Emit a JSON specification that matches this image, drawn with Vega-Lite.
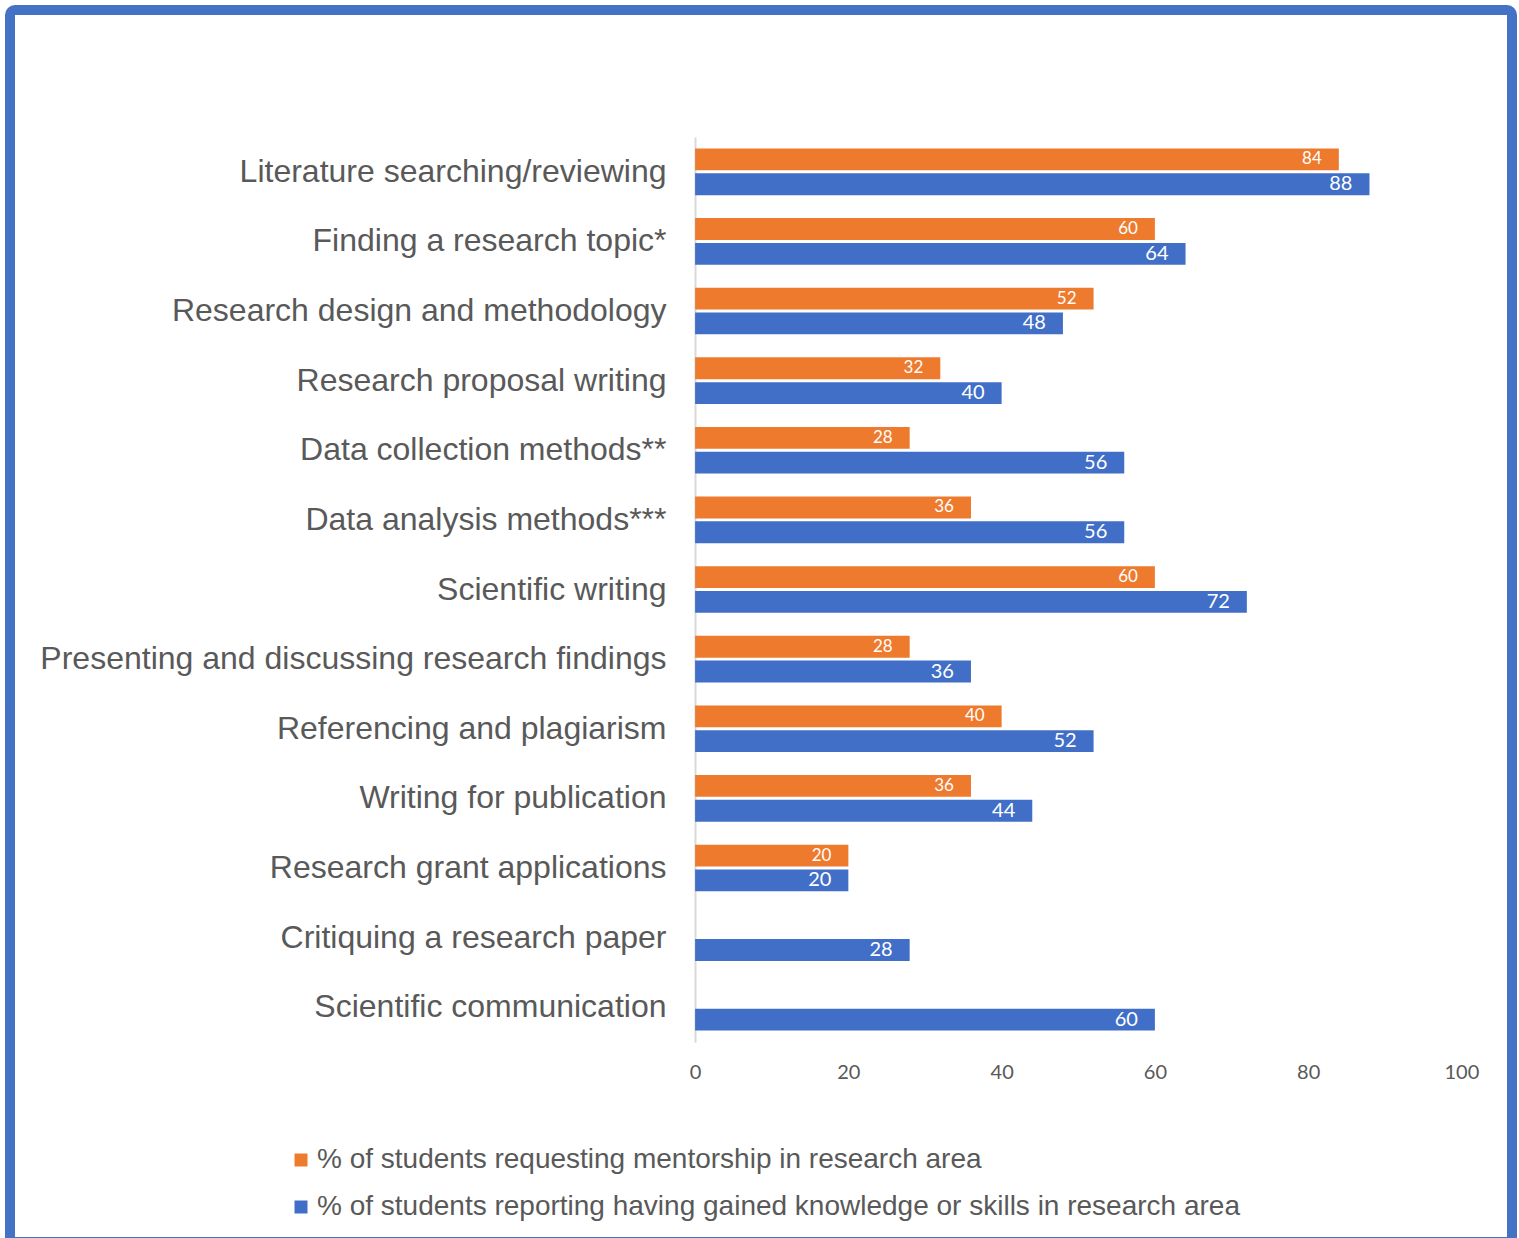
{
  "$schema": "https://vega.github.io/schema/vega-lite/v6.json",
  "width": 1502,
  "height": 1232,
  "autosize": {"type": "none"},
  "padding": {"left": 10, "top": 10, "right": 7, "bottom": 0},
  "background": "white",
  "config": {
    "view": {"stroke": "#4472C4", "strokeWidth": 10, "cornerRadius": 5},
    "font": "Liberation Sans"
  },
  "data": {
    "values": [
      {"area": "Literature searching/reviewing", "series": "% of students requesting mentorship in research area", "value": 84},
      {"area": "Literature searching/reviewing", "series": "% of students reporting having gained knowledge or skills in research area", "value": 88},
      {"area": "Finding a research topic*", "series": "% of students requesting mentorship in research area", "value": 60},
      {"area": "Finding a research topic*", "series": "% of students reporting having gained knowledge or skills in research area", "value": 64},
      {"area": "Research design and methodology", "series": "% of students requesting mentorship in research area", "value": 52},
      {"area": "Research design and methodology", "series": "% of students reporting having gained knowledge or skills in research area", "value": 48},
      {"area": "Research proposal writing", "series": "% of students requesting mentorship in research area", "value": 32},
      {"area": "Research proposal writing", "series": "% of students reporting having gained knowledge or skills in research area", "value": 40},
      {"area": "Data collection methods**", "series": "% of students requesting mentorship in research area", "value": 28},
      {"area": "Data collection methods**", "series": "% of students reporting having gained knowledge or skills in research area", "value": 56},
      {"area": "Data analysis methods***", "series": "% of students requesting mentorship in research area", "value": 36},
      {"area": "Data analysis methods***", "series": "% of students reporting having gained knowledge or skills in research area", "value": 56},
      {"area": "Scientific writing", "series": "% of students requesting mentorship in research area", "value": 60},
      {"area": "Scientific writing", "series": "% of students reporting having gained knowledge or skills in research area", "value": 72},
      {"area": "Presenting and discussing research findings", "series": "% of students requesting mentorship in research area", "value": 28},
      {"area": "Presenting and discussing research findings", "series": "% of students reporting having gained knowledge or skills in research area", "value": 36},
      {"area": "Referencing and plagiarism", "series": "% of students requesting mentorship in research area", "value": 40},
      {"area": "Referencing and plagiarism", "series": "% of students reporting having gained knowledge or skills in research area", "value": 52},
      {"area": "Writing for publication", "series": "% of students requesting mentorship in research area", "value": 36},
      {"area": "Writing for publication", "series": "% of students reporting having gained knowledge or skills in research area", "value": 44},
      {"area": "Research grant applications", "series": "% of students requesting mentorship in research area", "value": 20},
      {"area": "Research grant applications", "series": "% of students reporting having gained knowledge or skills in research area", "value": 20},
      {"area": "Critiquing a research paper", "series": "% of students reporting having gained knowledge or skills in research area", "value": 28},
      {"area": "Scientific communication", "series": "% of students reporting having gained knowledge or skills in research area", "value": 60}
    ]
  },
  "encoding": {
    "y": {
      "field": "area",
      "type": "nominal",
      "sort": null,
      "scale": {"range": [127, 1032], "paddingInner": 0.33, "paddingOuter": 0.165},
      "axis": {
        "title": null,
        "orient": "left",
        "offset": -685,
        "ticks": false,
        "tickSize": 0,
        "labelPadding": 29,
        "labelFontSize": 32,
        "labelColor": "#595959",
        "labelFont": "Liberation Sans",
        "labelLimit": 700,
        "domainColor": "#D9D9D9",
        "domainWidth": 2
      }
    },
    "yOffset": {
      "field": "series",
      "type": "nominal",
      "scale": {
        "domain": ["% of students requesting mentorship in research area", "% of students reporting having gained knowledge or skills in research area"],
        "paddingInner": 0.12
      }
    },
    "x": {
      "field": "value",
      "type": "quantitative",
      "scale": {"domain": [-89.4, 106.6], "nice": false, "zero": false},
      "axis": {
        "title": null,
        "orient": "bottom",
        "values": [0, 20, 40, 60, 80, 100],
        "offset": -170,
        "ticks": false,
        "tickSize": 0,
        "labelPadding": 0,
        "labelBaseline": "middle",
        "domain": false,
        "grid": false,
        "labelFontSize": 20,
        "labelColor": "#595959",
        "labelFont": "Lato"
      }
    }
  },
  "layer": [
    {
      "mark": {"type": "bar"},
      "encoding": {
        "color": {
          "field": "series",
          "type": "nominal",
          "scale": {
            "domain": ["% of students requesting mentorship in research area", "% of students reporting having gained knowledge or skills in research area"],
            "range": ["#EE7A2E", "#416FC8"]
          },
          "legend": {
            "title": null,
            "orient": "none",
            "legendX": 277,
            "legendY": 1136,
            "symbolType": "square",
            "symbolSize": 169,
            "symbolStrokeWidth": 0,
            "labelFontSize": 28,
            "labelColor": "#595959",
            "labelFont": "Liberation Sans",
            "labelOffset": 2,
            "labelLimit": 1200,
            "rowPadding": 19
          }
        }
      }
    },
    {
      "transform": [{"filter": "datum.series === '% of students requesting mentorship in research area'"}],
      "mark": {"type": "text", "align": "right", "baseline": "middle", "dx": -17, "color": "white", "font": "Lato", "fontSize": 17},
      "encoding": {
        "text": {"field": "value", "type": "quantitative"}
      }
    },
    {
      "transform": [{"filter": "datum.series !== '% of students requesting mentorship in research area'"}],
      "mark": {"type": "text", "align": "right", "baseline": "middle", "dx": -17, "color": "white", "font": "Lato", "fontSize": 20},
      "encoding": {
        "text": {"field": "value", "type": "quantitative"}
      }
    }
  ]
}
